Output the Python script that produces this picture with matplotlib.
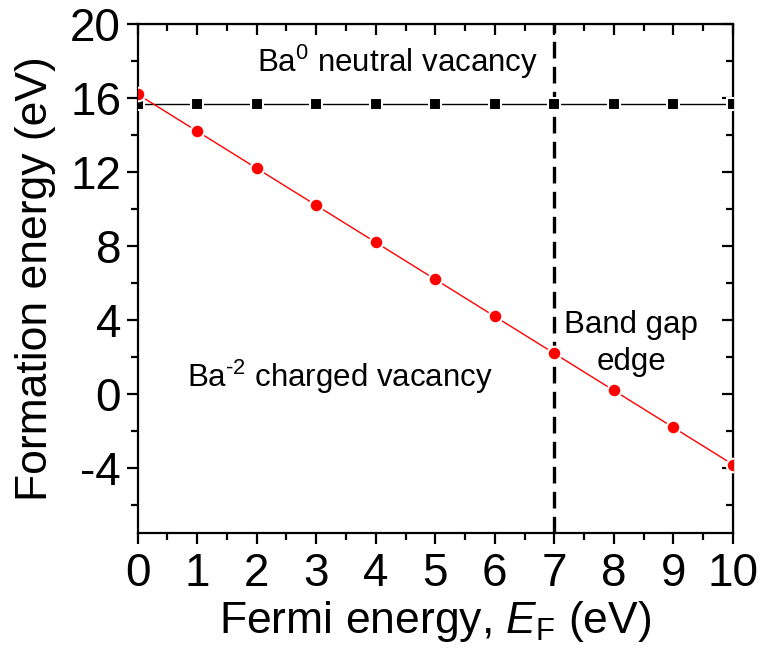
import matplotlib
matplotlib.use("Agg")
import matplotlib.pyplot as plt

plt.rcParams["font.family"] = ["Liberation Sans", "DejaVu Sans"]
plt.rcParams["mathtext.fontset"] = "custom"
plt.rcParams["mathtext.rm"] = "Liberation Sans"
plt.rcParams["mathtext.it"] = "Liberation Sans:italic"
plt.rcParams["axes.unicode_minus"] = False

fermi = [0, 1, 2, 3, 4, 5, 6, 7, 8, 9, 10]
neutral = [15.7, 15.7, 15.7, 15.7, 15.7, 15.7, 15.7, 15.7, 15.7, 15.7, 15.7]
charged = [16.2, 14.2, 12.2, 10.2, 8.2, 6.2, 4.2, 2.2, 0.2, -1.8, -3.8]
gap_edge = 7

fig = plt.figure(figsize=(7.65, 6.65), dpi=100)
ax = fig.add_axes([0.180, 0.1985, 0.778, 0.7655])

ax.plot(fermi, neutral, color="black", lw=1, marker="s", ms=8.5,
        mec="white", mew=1.5, mfc="black", zorder=3)
ax.plot(fermi, charged, color="red", lw=1, marker="o", ms=9.8,
        mec="white", mew=1.5, mfc="red", zorder=4)
ax.axvline(gap_edge, color="black", lw=2.4, ls=(0, (5, 2.5)), zorder=2)

ax.set_xlim(0, 10)
ax.set_ylim(-7.5, 20)
yt = [-4, 0, 4, 8, 12, 16, 20]
yminor = [-6, -2, 2, 6, 10, 14, 18]
ax.set_xticks(range(0, 11))
ax.set_yticks(yt)
ax.set_xticks([x + 0.5 for x in range(10)], minor=True)
ax.set_yticks(yminor, minor=True)

for s in ax.spines.values():
    s.set_linewidth(1.6)
ax.tick_params(which="both", direction="out", labelsize=33, width=1.6,
               top=False, right=False)
ax.tick_params(which="major", length=8)
ax.tick_params(which="minor", length=5)
ax.tick_params(axis="x", pad=6)
ax.tick_params(axis="y", pad=4)

top = ax.secondary_xaxis("top")
top.set_xticks(range(0, 11))
top.set_xticks([x + 0.5 for x in range(10)], minor=True)
top.tick_params(which="both", direction="in", labeltop=False, width=1.6)
top.tick_params(which="major", length=8)
top.tick_params(which="minor", length=5)
right = ax.secondary_yaxis("right")
right.set_yticks(yt)
right.set_yticks(yminor, minor=True)
right.tick_params(which="both", direction="in", labelright=False, width=1.6)
right.tick_params(which="major", length=8)
right.tick_params(which="minor", length=5)

ax.set_xlabel(r"Fermi energy, $\mathit{E}_\mathrm{F}$ (eV)", fontsize=32, labelpad=2)
ax.set_ylabel("Formation energy (eV)", fontsize=32, labelpad=10)

ax.text(2.0, 17.4, r"Ba$^0$ neutral vacancy", fontsize=22.5, va="baseline")
ax.text(0.82, 0.38, r"Ba$^{\text{-2}}$ charged vacancy", fontsize=22.5, va="baseline")
ax.text(8.29, 3.3, "Band gap", fontsize=22.5, ha="center", va="baseline")
ax.text(8.29, 1.3, "edge", fontsize=22.5, ha="center", va="baseline")

fig.savefig("out.png", dpi=100)
